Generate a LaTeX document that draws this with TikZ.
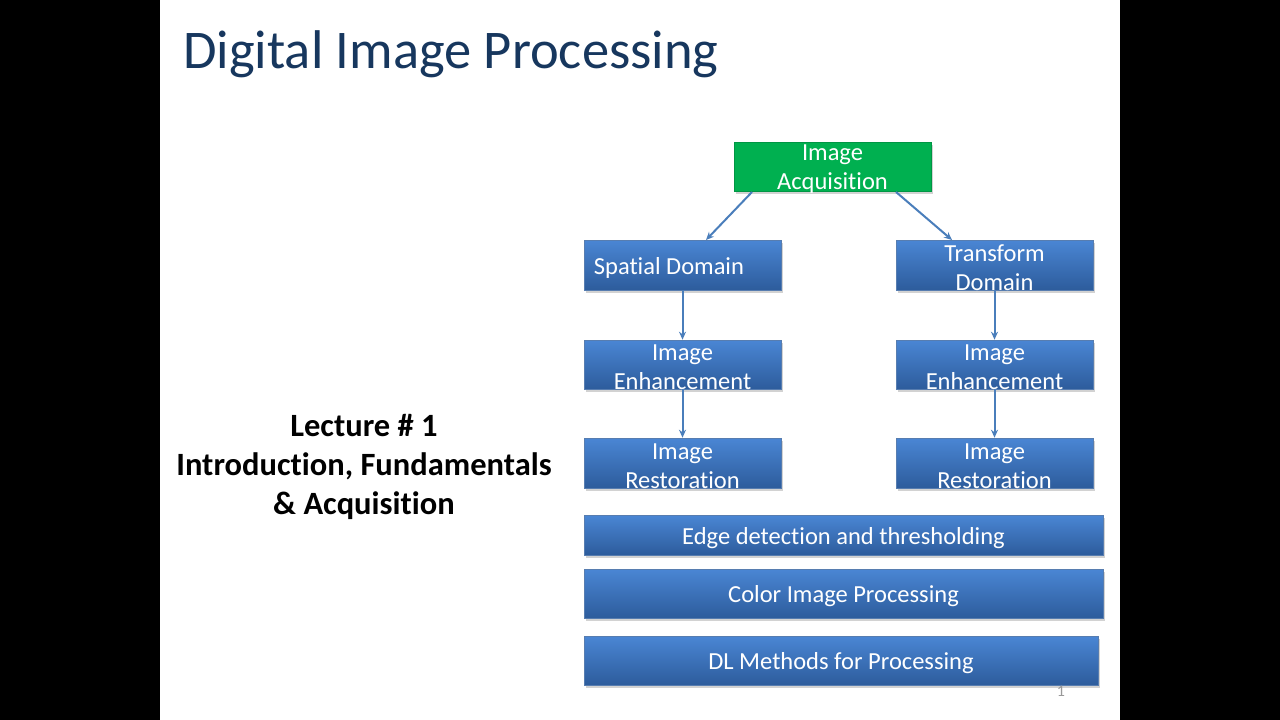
\documentclass[tikz,border=0pt]{standalone}
\usepackage{fontspec}
\setmainfont{Carlito}[Ligatures=NoCommon]
\usetikzlibrary{arrows.meta,shadows}
\definecolor{titleblue}{HTML}{17375E}
\definecolor{boxtop}{HTML}{4A86D4}
\definecolor{boxbot}{HTML}{2D5C9C}
\definecolor{greenbox}{HTML}{00B050}
\definecolor{arrowblue}{HTML}{4A7EBB}
\tikzset{
  boxtext/.style={text=white, font=\fontsize{24.5}{29}\selectfont, align=center, inner sep=0pt, yshift=-3pt},
  bluebox/.style={draw=boxbot!80, line width=0.6pt, top color=boxtop, bottom color=boxbot, inner sep=0pt,
    drop shadow={opacity=0.35, shadow xshift=1.5pt, shadow yshift=-2.5pt}},
  greenbx/.style={fill=greenbox, draw=greenbox!85!black, line width=0.6pt, inner sep=0pt,
    drop shadow={opacity=0.35, shadow xshift=1.5pt, shadow yshift=-2.5pt}},
  conn/.style={draw=arrowblue, line width=2pt, -{Stealth[length=8pt,width=7pt]}},
}
\begin{document}
\begin{tikzpicture}[x=1pt,y=-1pt]
\useasboundingbox (0,0) rectangle (1280,720);
\fill[black] (0,0) rectangle (160,720);
\fill[black] (1120,0) rectangle (1280,720);
\fill[white] (160,0) rectangle (1120,720);
\node[anchor=west, text=titleblue, font=\fontsize{54.5}{60}\selectfont, inner sep=0pt] (title) at (183,54) {Digital Image Processing};

\node[font=\bfseries\fontsize{32.5}{39}\selectfont, align=center, inner sep=0pt] (lect) at (364,467) {Lecture \# 1\\Introduction, Fundamentals\\\& Acquisition};

\node[greenbx, minimum width=197pt, minimum height=49pt, label={[boxtext]center:Image\\Acquisition}] (acq) at (832.5,166.5) {};
\node[bluebox, minimum width=197pt, minimum height=50pt, label={[boxtext, anchor=west, xshift=10pt]west:Spatial Domain}] (sd) at (682.5,265) {};
\node[bluebox, minimum width=197pt, minimum height=50pt, label={[boxtext]center:Transform\\Domain}] (td) at (994.5,265) {};
\node[bluebox, minimum width=197pt, minimum height=49pt, label={[boxtext]center:Image\\Enhancement}] (e1) at (682.5,364.5) {};
\node[bluebox, minimum width=197pt, minimum height=49pt, label={[boxtext]center:Image\\Enhancement}] (e2) at (994.5,364.5) {};
\node[bluebox, minimum width=197pt, minimum height=50pt, label={[boxtext]center:Image\\Restoration}] (r1) at (682.5,463) {};
\node[bluebox, minimum width=197pt, minimum height=50pt, label={[boxtext]center:Image\\Restoration}] (r2) at (994.5,463) {};
\node[bluebox, minimum width=519pt, minimum height=40pt, label={[boxtext]center:Edge detection and thresholding}] (edge) at (843.5,535) {};
\node[bluebox, minimum width=519pt, minimum height=49pt, label={[boxtext]center:Color Image Processing}] (color) at (843.5,593.5) {};
\node[bluebox, minimum width=514pt, minimum height=49pt, label={[boxtext]center:DL Methods for Processing}] (dl) at (841,660.5) {};
\node[text=gray!80, font=\fontsize{16}{18}\selectfont, inner sep=0pt] (pg) at (1061,691.5) {1};

\coordinate (a1) at (752,192);
\coordinate (a2) at (896,192);
\draw[conn] (a1) -- (706,240);
\draw[conn] (a2) -- (952,240);
\draw[conn] (sd) -- (e1);
\draw[conn] (e1) -- (r1);
\draw[conn] (td) -- (e2);
\draw[conn] (e2) -- (r2);
\end{tikzpicture}
\end{document}
